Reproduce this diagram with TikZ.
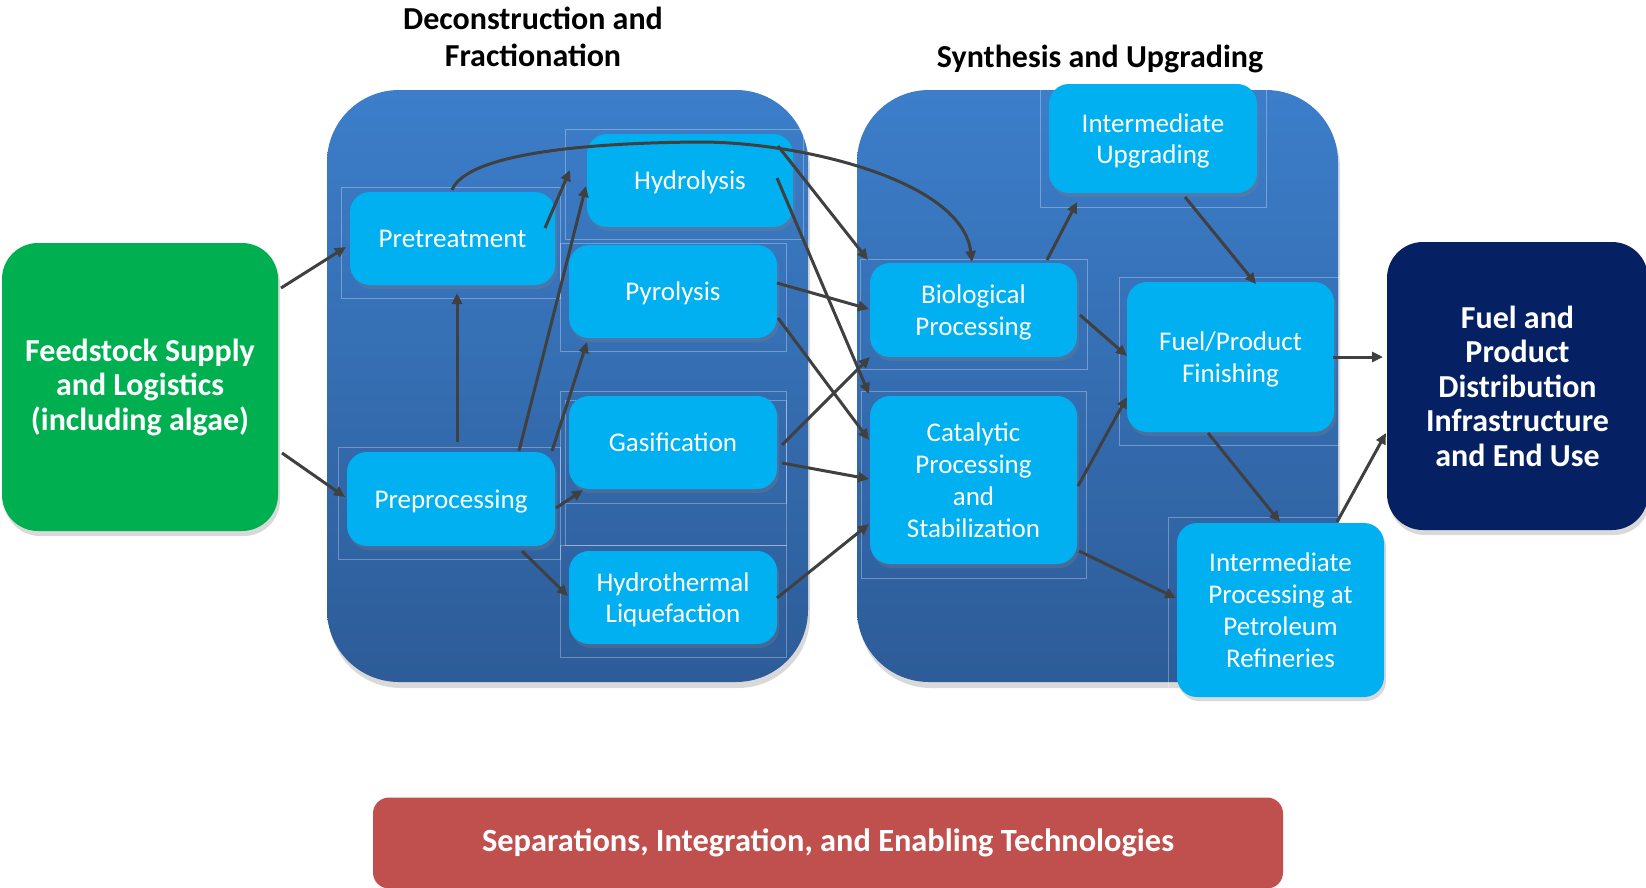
\documentclass[tikz,border=0pt]{standalone}
\usepackage{fontspec}
\setmainfont{Carlito}
\usetikzlibrary{arrows.meta,shadows}
\definecolor{cyanbox}{HTML}{00B0F0}
\definecolor{greenbox}{HTML}{00B050}
\definecolor{navybox}{HTML}{062163}
\definecolor{redbox}{HTML}{C0504D}
\definecolor{paneltop}{RGB}{60,126,202}
\definecolor{panelbot}{RGB}{45,92,152}
\definecolor{arrowcol}{HTML}{404040}
\newcommand\bs{\rule[-0.2em]{0pt}{1.1em}}
\begin{document}
\begin{tikzpicture}[x=1pt,y=-1pt,
  sbox/.style={draw=none, fill=cyanbox, rounded corners=20pt, text=white, align=center,
    inner sep=0pt, font=\fontsize{27}{31.7}\selectfont,
    drop shadow={opacity=0.3, shadow xshift=2pt, shadow yshift=-4pt}},
  bigbox/.style={draw=none, rounded corners=36pt, text=white, align=center,
    inner sep=0pt, font=\fontsize{32}{34.5}\selectfont\bfseries,
    drop shadow={opacity=0.3, shadow xshift=2pt, shadow yshift=-5pt}},
  panel/.style={draw=none, rounded corners=72pt, top color=paneltop, bottom color=panelbot,
    inner sep=0pt, minimum width=481pt, minimum height=592pt,
    drop shadow={opacity=0.3, shadow xshift=2pt, shadow yshift=-6pt}},
  title/.style={align=center, inner sep=0pt, font=\fontsize{32}{37.5}\selectfont\bfseries},
  frame/.style={draw=white, draw opacity=0.3, line width=0.8pt},
  arr/.style={draw=arrowcol, line width=3pt, -{Triangle[length=11pt,width=10pt]}}
]
\useasboundingbox (0,0) rectangle (1646,887);

% titles
\node[title] (t1) at (533,37) {Deconstruction and\\Fractionation};
\node[title] (t2) at (1100,59) {Synthesis and Upgrading};

% panels
\node[panel] (pl) at (567.5,386) {};
\node[panel] (pr) at (1097.5,386) {};

% faint group frames
\draw[frame] (341,187) rectangle (560,298);
\draw[frame] (565,129) rectangle (803,239);
\draw[frame] (560,243) rectangle (786,351);
\draw[frame] (560,391) rectangle (786,503);
\draw[frame] (565,400) rectangle (786,545);
\draw[frame] (338,447) rectangle (560,559);
\draw[frame] (560,545) rectangle (786,657);
\draw[frame] (860,259) rectangle (1087,369);
\draw[frame] (1040,88) rectangle (1266,207);
\draw[frame] (1119,277) rectangle (1339,445);
\draw[frame] (861,391) rectangle (1086,578);
\draw[frame] (1168,517) rectangle (1339,690);

% outer boxes
\node[bigbox, fill=greenbox, minimum width=276pt, minimum height=288pt] (feed) at (140,387)
  {Feedstock Supply\\and Logistics\\(including algae)};
\node[bigbox, fill=navybox, minimum width=261pt, minimum height=288pt] (navy) at (1517.5,386)
  {Fuel and\\Product\\Distribution\\Infrastructure\\and End Use};

% inner boxes
\node[sbox, minimum width=205pt, minimum height=93pt] (pre) at (452.5,238.5) {\bs Pretreatment\bs};
\node[sbox, minimum width=206pt, minimum height=93pt] (hyd) at (690,180.5) {\bs Hydrolysis\bs};
\node[sbox, minimum width=208pt, minimum height=93pt] (pyr) at (673,291.5) {\bs Pyrolysis\bs};
\node[sbox, minimum width=208pt, minimum height=93pt] (gas) at (673,442.5) {\bs Gasification\bs};
\node[sbox, minimum width=208pt, minimum height=94pt] (prep) at (451,499) {\bs Preprocessing\bs};
\node[sbox, minimum width=208pt, minimum height=93pt] (htl) at (673,597.5) {\bs Hydrothermal\\Liquefaction\bs};
\node[sbox, minimum width=207pt, minimum height=94pt] (bio) at (973.5,310) {\bs Biological\\Processing\bs};
\node[sbox, minimum width=208pt, minimum height=109pt] (iu) at (1153,138.5) {\bs Intermediate\\Upgrading\bs};
\node[sbox, minimum width=207pt, minimum height=150pt] (ff) at (1230.5,357) {\bs Fuel/Product\\Finishing\bs};
\node[sbox, minimum width=207pt, minimum height=168pt] (cat) at (973.5,480) {\bs Catalytic\\Processing\\and\\Stabilization\bs};
\node[sbox, minimum width=207pt, minimum height=174pt] (ippr) at (1280.5,610) {\bs Intermediate\\Processing at\\Petroleum\\Refineries\bs};

% bottom bar
\node[draw=none, fill=redbox, rounded corners=16pt, minimum width=910pt, minimum height=91pt,
  inner sep=0pt, text=white, font=\fontsize{32.4}{38}\selectfont\bfseries] (sep) at (828,843)
  {Separations, Integration, and Enabling Technologies};

% connectors
\draw[arr] ([shift={(141,-99)}]feed.center) -- ([shift={(-106.5,8.5)}]pre.center);
\draw[arr] ([shift={(142,66)}]feed.center) -- ([shift={(-106,-2)}]prep.center);
\draw[arr] ([shift={(6,-57)}]prep.center) -- ([shift={(4.5,54.5)}]pre.center);
\draw[arr] ([shift={(92.5,-10.5)}]pre.center) -- ([shift={(-120,-10.5)}]hyd.center);
\draw[arr] ([shift={(68,-48)}]prep.center) -- ([shift={(-104,5.5)}]hyd.center);
\draw[arr] ([shift={(101,-48)}]prep.center) -- ([shift={(-86,50.5)}]pyr.center);
\draw[arr] ([shift={(105,9)}]prep.center) -- ([shift={(-90,47.5)}]gas.center);
\draw[arr] ([shift={(71,52)}]prep.center) -- ([shift={(-105,-1.5)}]htl.center);
\coordinate (peak) at (700,142);
\draw[arr] ([shift={(-0.5,-48.5)}]pre.center) .. controls (465,158) and (560,143) .. (peak)
  .. controls (800,142) and (962,180) .. ([shift={(-1.5,-48)}]bio.center);
\draw[arr] ([shift={(88,-34.5)}]hyd.center) -- ([shift={(-105.5,-50)}]bio.center);
\draw[arr] ([shift={(87,-2.5)}]hyd.center) -- ([shift={(-104.5,-86)}]cat.center);
\draw[arr] ([shift={(104,-8.5)}]pyr.center) -- ([shift={(-104.5,-1)}]bio.center);
\draw[arr] ([shift={(105,26.5)}]pyr.center) -- ([shift={(-104.5,-40)}]cat.center);
\draw[arr] ([shift={(109,2.5)}]gas.center) -- ([shift={(-103.5,47)}]bio.center);
\draw[arr] ([shift={(109,20.5)}]gas.center) -- ([shift={(-104.5,-1)}]cat.center);
\draw[arr] ([shift={(104,0.5)}]htl.center) -- ([shift={(-104.5,44)}]cat.center);
\draw[arr] ([shift={(73.5,-50)}]bio.center) -- ([shift={(-76,63.5)}]iu.center);
\draw[arr] ([shift={(32,58.5)}]iu.center) -- ([shift={(25.5,-73)}]ff.center);
\draw[arr] ([shift={(106.5,5)}]bio.center) -- ([shift={(-103.5,-1)}]ff.center);
\draw[arr] ([shift={(104.5,6)}]cat.center) -- ([shift={(-103.5,40)}]ff.center);
\draw[arr] ([shift={(-22.5,76)}]ff.center) -- ([shift={(-0.5,-88)}]ippr.center);
\draw[arr] ([shift={(105.5,71)}]cat.center) -- ([shift={(-104.5,-12)}]ippr.center);
\draw[arr] ([shift={(56.5,-88)}]ippr.center) -- ([shift={(-131.5,47)}]navy.center);
\draw[arr] ([shift={(102.5,0)}]ff.center) -- ([shift={(-134.5,-29)}]navy.center);
\end{tikzpicture}
\end{document}
